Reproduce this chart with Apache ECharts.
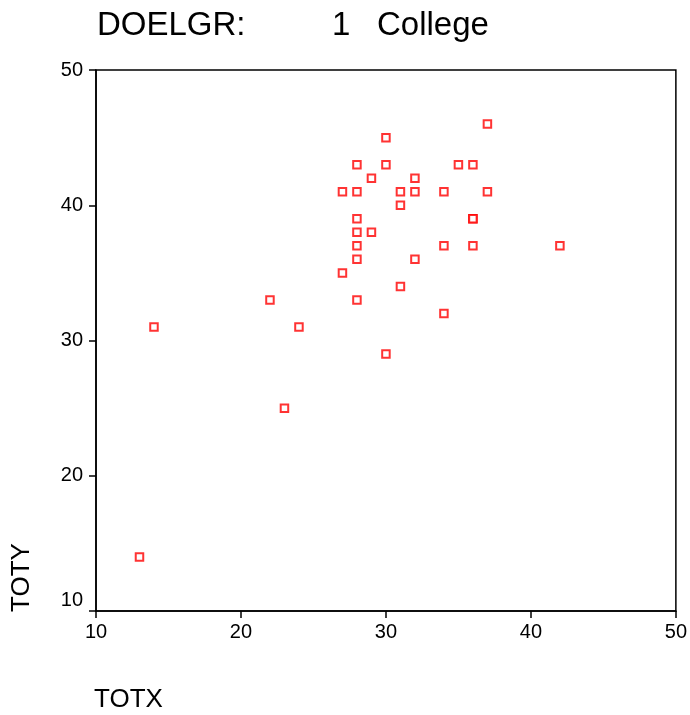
<!DOCTYPE html>
<html>
<head>
<meta charset="utf-8">
<script src="https://cdn.jsdelivr.net/npm/echarts@6/dist/echarts.min.js"></script>
<style>
  html, body { margin: 0; padding: 0; background: #fff; }
  #chart { width: 690px; height: 715px; }
</style>
</head>
<body>
<div id="chart"></div>
<script>
// TOTX / TOTY pairs for group DOELGR = 1 (College)
const totx = [13, 14, 22, 23, 24, 27, 27, 28, 28, 28, 28, 28, 28, 28, 29, 29, 30, 30, 30,
  31, 31, 31, 32, 32, 32, 34, 34, 34, 35, 36, 36, 36, 36, 37, 37, 42];
const toty = [14, 31, 33, 25, 31, 35, 41, 43, 41, 39, 38, 37, 36, 33, 42, 38, 45, 43, 29,
  41, 40, 34, 42, 41, 36, 41, 37, 32, 43, 43, 39, 39, 37, 46, 41, 37];
const xTicks = [10, 20, 30, 40, 50];
const yTicks = [10, 20, 30, 40, 50];

const points = totx.map((x, i) => [x, toty[i]]);
const font = "'Liberation Sans', Arial, sans-serif";
const chart = echarts.init(document.getElementById("chart"));

chart.setOption({
  animation: false,
  backgroundColor: "#fff",
  grid: { left: 96, right: 14, top: 70, bottom: 104, show: true, borderColor: "#000", borderWidth: 1.5 },
  xAxis: {
    type: "value",
    min: xTicks[0], max: xTicks[xTicks.length - 1], interval: 10,
    axisLine: { lineStyle: { color: "#000", width: 1.5 } },
    axisTick: { length: 7, lineStyle: { color: "#000", width: 1.5 } },
    axisLabel: { color: "#000", fontSize: 20, fontFamily: font, margin: 11 },
    splitLine: { show: false }
  },
  yAxis: {
    type: "value",
    min: yTicks[0], max: yTicks[yTicks.length - 1], interval: 10,
    axisLine: { show: true, lineStyle: { color: "#000", width: 1.5 } },
    axisTick: { show: true, length: 7, lineStyle: { color: "#000", width: 1.5 } },
    axisLabel: {
      color: "#000", fontSize: 20, fontFamily: font, margin: 13,
      // lowest label sits above the x axis line
      formatter: v => (v === yTicks[0] ? "{lo|" + v + "}" : "{n|" + v + "}"),
      rich: {
        n: { fontSize: 20, fontFamily: font, color: "#000" },
        lo: { fontSize: 20, fontFamily: font, color: "#000", padding: [0, 0, 22, 0] }
      }
    },
    splitLine: { show: false }
  },
  graphic: [
    { type: "text", left: 97, top: 9, style: { text: "DOELGR:", fontSize: 33, fontFamily: font, fill: "#000" } },
    { type: "text", left: 332, top: 9, style: { text: "1", fontSize: 33, fontFamily: font, fill: "#000" } },
    { type: "text", left: 377, top: 9, style: { text: "College", fontSize: 33, fontFamily: font, fill: "#000" } },
    { type: "text", left: 94, top: 687, style: { text: "TOTX", fontSize: 26, fontFamily: font, fill: "#000" } },
    { type: "text", x: 35, y: 612, rotation: Math.PI / 2,
      style: { text: "TOTY", fontSize: 26, fontFamily: font, fill: "#000", textAlign: "left", textVerticalAlign: "bottom" } }
  ],
  series: [{
    type: "scatter",
    data: points,
    symbol: "rect",
    symbolSize: 7.5,
    itemStyle: { color: "#fff", borderColor: "#ff0000", borderWidth: 2 }
  }]
});
</script>
</body>
</html>
